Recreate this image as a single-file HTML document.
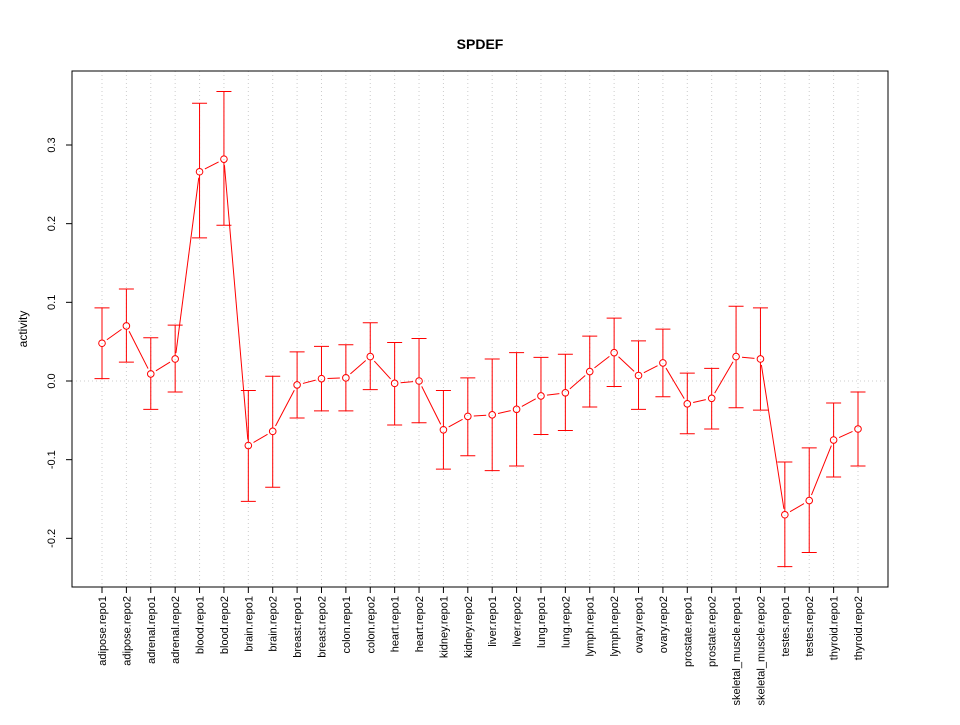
<!DOCTYPE html>
<html><head><meta charset="utf-8"><style>
body{margin:0;background:#fff;}
svg text{font-family:"Liberation Sans",sans-serif;}
</style></head><body>
<svg id="chart" width="960" height="720" xmlns="http://www.w3.org/2000/svg">
<text x="480" y="49" text-anchor="middle" font-size="14" font-weight="bold">SPDEF</text>
<text transform="translate(27,329) rotate(-90)" text-anchor="middle" font-size="12">activity</text>
<g id="grid"></g><g id="axes"></g><g id="marks"></g>
<rect x="72" y="71" width="816" height="516" fill="none" stroke="#000"/>
</svg>
<script>
const categories=["adipose.repo1","adipose.repo2","adrenal.repo1","adrenal.repo2","blood.repo1","blood.repo2","brain.repo1","brain.repo2","breast.repo1","breast.repo2","colon.repo1","colon.repo2","heart.repo1","heart.repo2","kidney.repo1","kidney.repo2","liver.repo1","liver.repo2","lung.repo1","lung.repo2","lymph.repo1","lymph.repo2","ovary.repo1","ovary.repo2","prostate.repo1","prostate.repo2","skeletal_muscle.repo1","skeletal_muscle.repo2","testes.repo1","testes.repo2","thyroid.repo1","thyroid.repo2"];
const values=[0.048,0.070,0.009,0.028,0.266,0.282,-0.082,-0.064,-0.005,0.003,0.004,0.031,-0.003,0.000,-0.062,-0.045,-0.043,-0.036,-0.019,-0.015,0.012,0.036,0.007,0.023,-0.029,-0.022,0.031,0.028,-0.170,-0.152,-0.075,-0.061];
const upper=[0.093,0.117,0.055,0.071,0.353,0.368,-0.012,0.006,0.037,0.044,0.046,0.074,0.049,0.054,-0.012,0.004,0.028,0.036,0.030,0.034,0.057,0.080,0.051,0.066,0.010,0.016,0.095,0.093,-0.103,-0.085,-0.028,-0.014];
const lower=[0.003,0.024,-0.036,-0.014,0.182,0.198,-0.153,-0.135,-0.047,-0.038,-0.038,-0.011,-0.056,-0.053,-0.112,-0.095,-0.114,-0.108,-0.068,-0.063,-0.033,-0.007,-0.036,-0.020,-0.067,-0.061,-0.034,-0.037,-0.236,-0.218,-0.122,-0.108];
const yTicks=[-0.2,-0.1,0.0,0.1,0.2,0.3];
const yTickLabels=["-0.2","-0.1","0.0","0.1","0.2","0.3"];
const NS="http://www.w3.org/2000/svg";
const X=i=>102+i*(756/31);
const Y=v=>381-v*786.7;
function mk(tag,attrs,parent,text){const e=document.createElementNS(NS,tag);for(const k in attrs)e.setAttribute(k,attrs[k]);if(text!==undefined)e.textContent=text;parent.appendChild(e);return e;}
const grid=document.getElementById('grid'),axes=document.getElementById('axes'),marks=document.getElementById('marks');
categories.forEach((c,i)=>{
  const g=mk('line',{x1:X(i),x2:X(i),y1:71,y2:587,stroke:'#ccc','stroke-dasharray':'1,3'},grid);
  
  
  const t=mk('line',{x1:X(i),x2:X(i),y1:587,y2:593,stroke:'#000'},axes);
  
  
  const l=mk('text',{transform:`translate(${X(i)+4},596) rotate(-90)`,'text-anchor':'end','font-size':'11'},axes,c);
  
  
});
const h=mk('line',{x1:72,x2:888,y1:Y(0),y2:Y(0),stroke:'#ccc','stroke-dasharray':'1,3'},grid);


yTicks.forEach((v,i)=>{
  const t=mk('line',{x1:66,x2:72,y1:Y(v),y2:Y(v),stroke:'#000'},axes);
  
  
  const l=mk('text',{transform:`translate(55,${Y(v)}) rotate(-90)`,'text-anchor':'middle','font-size':'11'},axes,yTickLabels[i]);
  
  
});
for(let i=0;i<values.length-1;i++){
  const x1=X(i),y1=Y(values[i]),x2=X(i+1),y2=Y(values[i+1]);
  const dx=x2-x1,dy=y2-y1,d=Math.hypot(dx,dy),g=6;
  if(d<=2*g) continue;
  const s=mk('line',{x1:x1+dx*g/d,y1:y1+dy*g/d,x2:x2-dx*g/d,y2:y2-dy*g/d,stroke:'#f00'},marks);
  
  
}
values.forEach((v,i)=>{
  const x=X(i);
  const e=mk('path',{d:`M${x},${Y(upper[i])}V${Y(v)-3.3}M${x},${Y(v)+3.3}V${Y(lower[i])}M${x-7.5},${Y(upper[i])}H${x+7.5}M${x-7.5},${Y(lower[i])}H${x+7.5}`,stroke:'#f00',fill:'none'},marks);
  
  
  const p=mk('circle',{cx:x,cy:Y(v),r:3.3,fill:'none',stroke:'#f00'},marks);
  
  
});
</script>
</body></html>
